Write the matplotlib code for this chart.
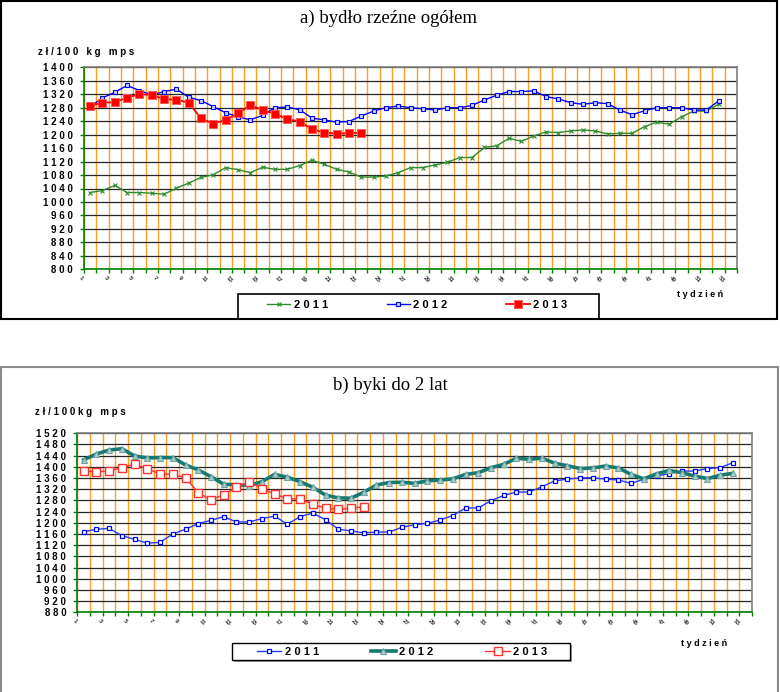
import matplotlib

matplotlib.use("Agg")
import matplotlib.pyplot as plt
import matplotlib.transforms as mtransforms
from matplotlib.patches import Rectangle
from matplotlib.ticker import FixedLocator, FuncFormatter, MultipleLocator

# --- data (zł/100 kg mps, by week) ---
weeks = list(range(1, 54))
label_weeks = list(range(1, 54, 2))

a_title = "a) bydło rzeźne ogółem"
b_title = "b) byki do 2 lat"
years = ["2011", "2012", "2013"]

a_2011 = [1028, 1034, 1049, 1028, 1028, 1026, 1023, 1041, 1056, 1073, 1081, 1102, 1096,
          1087, 1103, 1097, 1097, 1108, 1124, 1112, 1097, 1089, 1074, 1074, 1077, 1087,
          1102, 1102, 1110, 1118, 1132, 1132, 1162, 1167, 1189, 1180, 1196, 1208, 1206,
          1211, 1214, 1211, 1202, 1204, 1204, 1224, 1237, 1231, 1253, 1270, 1270, 1290]
a_2012 = [1283, 1309, 1326, 1346, 1331, 1318, 1328, 1335, 1311, 1301, 1283, 1265, 1253,
          1244, 1257, 1280, 1282, 1274, 1249, 1244, 1237, 1239, 1255, 1270, 1280, 1285,
          1280, 1277, 1273, 1280, 1280, 1287, 1303, 1317, 1328, 1328, 1330, 1313, 1306,
          1295, 1290, 1295, 1292, 1273, 1259, 1271, 1280, 1280, 1280, 1273, 1273, 1300]
a_2013 = [1285, 1295, 1296, 1310, 1320, 1318, 1305, 1304, 1295, 1248, 1232, 1244, 1263,
          1288, 1273, 1262, 1246, 1239, 1216, 1206, 1203, 1204, 1206]

b_2011 = [1168, 1177, 1180, 1154, 1141, 1127, 1130, 1160, 1177, 1197, 1209, 1222, 1203,
          1203, 1215, 1224, 1195, 1222, 1235, 1211, 1177, 1171, 1164, 1167, 1167, 1184,
          1193, 1198, 1210, 1226, 1253, 1253, 1279, 1298, 1310, 1310, 1329, 1350, 1356,
          1361, 1361, 1356, 1353, 1341, 1356, 1367, 1376, 1385, 1385, 1394, 1397, 1415]
b_2012 = [1425, 1446, 1460, 1465, 1439, 1432, 1433, 1433, 1407, 1389, 1365, 1338, 1336,
          1333, 1347, 1373, 1363, 1347, 1327, 1299, 1289, 1288, 1309, 1335, 1344, 1345,
          1341, 1350, 1353, 1357, 1373, 1379, 1397, 1409, 1431, 1427, 1431, 1413, 1404,
          1394, 1396, 1403, 1396, 1373, 1357, 1375, 1387, 1379, 1367, 1358, 1370, 1377]
b_2013 = [1385, 1383, 1385, 1397, 1410, 1392, 1375, 1373, 1361, 1308, 1282, 1301, 1327,
          1347, 1322, 1303, 1286, 1286, 1266, 1252, 1248, 1252, 1258]

W, H = 780, 692
SANS = "Liberation Sans"
SERIF = "Liberation Serif"
GREEN = "#008000"


def spaced(s):
    return " ".join(s)


def fx(px):
    return px / W


def fy(py):
    return 1 - py / H


fig = plt.figure(figsize=(W / 100, H / 100), dpi=100)


def make_axes(x0, y0, x1, y1, ymin, ymax):
    ax = fig.add_axes([fx(x0), fy(y1), fx(x1) - fx(x0), (y1 - y0) / H])
    ax.set_xlim(0.5, 53.5)
    ax.set_ylim(ymin, ymax)
    ax.yaxis.set_major_locator(MultipleLocator(40))
    ax.yaxis.set_major_formatter(FuncFormatter(lambda v, p: spaced(str(int(round(v))))))
    ax.xaxis.set_major_locator(MultipleLocator(1, offset=0.5))
    ax.xaxis.set_major_formatter(FuncFormatter(lambda v, p: ""))
    ax.xaxis.set_minor_locator(FixedLocator(label_weeks))
    ax.xaxis.set_minor_formatter(FuncFormatter(lambda v, p: str(int(v))))
    ax.grid(axis="y", color="#262626", lw=0.9)
    ax.grid(axis="x", which="major", color="#FFA020", lw=1.0)
    ax.set_axisbelow(True)
    ax.tick_params(axis="both", which="major", color=GREEN, length=3, width=1)
    ax.tick_params(axis="y", labelsize=7, pad=5)
    ax.tick_params(axis="x", which="minor", length=0, labelsize=4.5, labelrotation=-45,
                   pad=4)
    for lab in ax.get_yticklabels():
        lab.set_fontfamily(SANS)
        lab.set_fontweight("bold")
    # week labels sit a little left of their week, as in the source chart
    shift = mtransforms.ScaledTranslation(-9 / 100, 0, fig.dpi_scale_trans)
    for lab in ax.get_xticklabels(minor=True):
        lab.set_fontfamily(SANS)
        lab.set_fontweight("bold")
        lab.set_color("#333333")
        lab.set_transform(lab.get_transform() + shift)
    for side in ("left", "bottom"):
        ax.spines[side].set_color(GREEN)
        ax.spines[side].set_linewidth(1.2)
    for side in ("top", "right"):
        ax.spines[side].set_color("#808080")
        ax.spines[side].set_linewidth(1.2)
    return ax


def fig_text(px, py, s, **kw):
    fig.text(fx(px), fy(py), s, **kw)


# ---------------- panel a ----------------
fig.add_artist(Rectangle((fx(1), fy(319)), fx(777) - fx(1), (319 - 1) / H,
                         transform=fig.transFigure, fill=False, ec="black", lw=1.5))
fig_text(389, 18, a_title, ha="center", va="center", family=SERIF, fontsize=13.5)
fig_text(38, 52, spaced("zł/100 kg mps"), ha="left", va="center", family=SANS,
         fontweight="bold", fontsize=7)
fig_text(700, 295, spaced("tydzień"), ha="center", va="center", family=SANS,
         fontweight="bold", fontsize=6.5)

ax1 = make_axes(84, 67.3, 737, 269.3, 800, 1400)
h11, = ax1.plot(weeks[:len(a_2011)], a_2011, color="#2E8B2E", lw=1.0, marker="x", ms=3.2,
                mew=0.8)
h12, = ax1.plot(weeks[:len(a_2012)], a_2012, color="#0000FF", lw=1.0, marker="s", ms=3.2,
                mfc="#CCCCFF", mec="#0000FF", mew=0.8)
h13, = ax1.plot(weeks[:len(a_2013)], a_2013, color="#FF0000", lw=1.3, marker="s", ms=5.2,
                mfc="#FF0000", mec="#FF5555", mew=0.6)

fig.add_artist(Rectangle((fx(238), fy(319)), fx(599) - fx(238), (319 - 294) / H,
                         transform=fig.transFigure, fill=False, ec="black", lw=1.2))
fig.legend([h11, h12, h13], [spaced(y) for y in years], ncol=3, loc="center left",
           bbox_to_anchor=(fx(267), fy(305)), frameon=False, borderpad=0,
           borderaxespad=0, handlelength=2.1, handletextpad=0.3, columnspacing=5.3,
           prop={"family": SANS, "weight": "bold", "size": 8})

# ---------------- panel b ----------------
fig.add_artist(Rectangle((fx(1), fy(700)), fx(778) - fx(1), (700 - 367) / H,
                         transform=fig.transFigure, fill=False, ec="#8a8a8a", lw=1.5))
fig_text(390, 385, b_title, ha="center", va="center", family=SERIF, fontsize=13.5)
fig_text(35, 412, spaced("zł/100kg mps"), ha="left", va="center", family=SANS,
         fontweight="bold", fontsize=7)
fig_text(704, 643, spaced("tydzień"), ha="center", va="center", family=SANS,
         fontweight="bold", fontsize=6.5)

ax2 = make_axes(77.3, 433.3, 752, 612.3, 880, 1520)
g11, = ax2.plot(weeks[:len(b_2011)], b_2011, color="#1F3FFF", lw=1.0, marker="s", ms=3.2,
                mfc="white", mec="#0000FF", mew=0.9)
g12, = ax2.plot(weeks[:len(b_2012)], b_2012, color="#167A72", lw=2.6, marker="^", ms=5,
                mfc="#A8CCCC", mec="#6FA3A0", mew=0.8)
g13, = ax2.plot(weeks[:len(b_2013)], b_2013, color="#FF3030", lw=1.0, marker="s", ms=5.5,
                mfc="white", mec="#FF3030", mew=1.0)

fig.add_artist(Rectangle((fx(234), fy(662)), fx(572) - fx(234), (662 - 645) / H,
                         transform=fig.transFigure, fill=True, fc="#9a9a9a", ec="none"))
fig.add_artist(Rectangle((fx(232), fy(660)), fx(570) - fx(232), (660 - 643) / H,
                         transform=fig.transFigure, fill=True, fc="white", ec="black",
                         lw=1.0))
fig.legend([g11, g12, g13], [spaced(y) for y in years], ncol=3, loc="center left",
           bbox_to_anchor=(fx(257), fy(652)), frameon=False, borderpad=0,
           borderaxespad=0, handlelength=2.2, handletextpad=0.3, columnspacing=4.7,
           prop={"family": SANS, "weight": "bold", "size": 8})

fig.savefig("out.png", dpi=100)
